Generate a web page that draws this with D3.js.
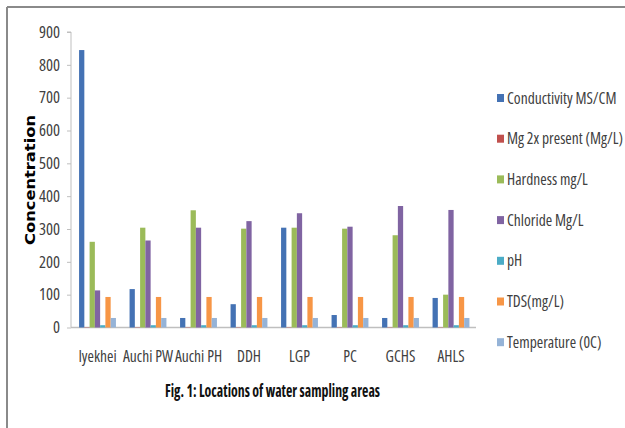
<!DOCTYPE html>
<html>
<head>
<meta charset="utf-8">
<script src="https://cdn.jsdelivr.net/npm/d3@7"></script>
<style>
  html, body { margin: 0; padding: 0; background: #fff; }
  svg { display: block; }
  .nar { font-family: 'Open Sans', sans-serif; font-stretch: condensed; }
</style>
</head>
<body>
<svg id="chart" width="625" height="428"></svg>
<script>
const categories = ["Iyekhei", "Auchi PW", "Auchi PH", "DDH", "LGP", "PC", "GCHS", "AHLS"];
const seriesNames = ["Conductivity MS/CM", "Mg 2x present (Mg/L)", "Hardness mg/L", "Chloride Mg/L", "pH", "TDS(mg/L)", "Temperature (0C)"];
const seriesColors = ["#4472B4", "#C0504D", "#9BBB59", "#8064A2", "#4BACC6", "#F79646", "#95B3D7"];
const conductivity = [845, 117, 29, 71, 304, 38, 29, 90];
const magnesium    = [1, 1, 1, 1, 1, 1, 1, 1];
const hardness     = [261, 304, 357, 301, 304, 301, 281, 100];
const chloride     = [113, 265, 304, 324, 348, 307, 370, 358];
const pH           = [7, 7, 7, 7, 7, 7, 7, 7];
const tds          = [93, 93, 93, 93, 93, 93, 93, 93];
const temperature  = [29, 29, 29, 29, 29, 29, 29, 29];
const yTicks = [0, 100, 200, 300, 400, 500, 600, 700, 800, 900];

const seriesValues = [conductivity, magnesium, hardness, chloride, pH, tds, temperature];

const svg = d3.select("#chart");

// frame
svg.append("line").attr("x1", 7).attr("y1", 7).attr("x2", 625).attr("y2", 7)
  .attr("stroke", "#8a8a8a").attr("stroke-width", 2);
svg.append("line").attr("x1", 7).attr("y1", 7).attr("x2", 7).attr("y2", 428)
  .attr("stroke", "#8a8a8a").attr("stroke-width", 2);

const x0 = d3.scaleBand().domain(categories).range([72.25, 476.25])
  .paddingInner(0.27).paddingOuter(0.135);
const x1 = d3.scaleBand().domain(seriesNames).range([0, x0.bandwidth()]);
const y = d3.scaleLinear().domain([0, 900]).range([327.5, 32]);

// y axis
const yAxis = d3.axisLeft(y).tickValues(yTicks).tickSize(4).tickPadding(7);
const gy = svg.append("g").attr("transform", "translate(71,0)").call(yAxis);
gy.attr("font-family", null);
gy.select(".domain").attr("stroke", "#bfbfbf").attr("d", `M-4,${y(900)}H0V${y(0)}`);
gy.selectAll(".tick line").attr("stroke", "#bfbfbf");
gy.selectAll(".tick text").attr("class", "nar").attr("font-size", 16.5)
  .attr("fill", "#404040");

// x axis
const xAxis = d3.axisBottom(x0).tickSize(0).tickPadding(0);
const gx = svg.append("g").attr("transform", `translate(0,${y(0)})`).call(xAxis);
gx.attr("font-family", null);
gx.select(".domain").attr("stroke", "#bfbfbf").attr("stroke-width", 1.5)
  .attr("d", `M71,0H476`);
gx.selectAll(".tick text").attr("class", "nar").attr("font-size", 15.5)
  .attr("fill", "#404040").attr("dy", 0).attr("y", 34);

// bars
const groups = svg.append("g").selectAll("g").data(categories).join("g")
  .attr("transform", d => `translate(${x0(d)},0)`);
groups.selectAll("rect")
  .data((c, ci) => seriesNames.map((s, si) => ({ s, si, v: seriesValues[si][ci] })))
  .join("rect")
  .attr("x", d => x1(d.s))
  .attr("width", x1.bandwidth())
  .attr("y", d => y(d.v))
  .attr("height", d => y(0) - y(d.v))
  .attr("fill", d => seriesColors[d.si]);

// y title
svg.append("text")
  .attr("transform", "translate(35,180) rotate(-90)")
  .attr("text-anchor", "middle")
  .attr("font-family", "'DejaVu Sans', sans-serif")
  .attr("font-weight", "bold")
  .attr("font-size", 14.5)
  .attr("textLength", 130)
  .attr("lengthAdjust", "spacingAndGlyphs")
  .attr("fill", "#000")
  .text("Concentration");

// legend
const legend = svg.append("g").selectAll("g").data(seriesNames).join("g")
  .attr("transform", (d, i) => `translate(497,${98 + i * 40.7})`);
legend.append("rect").attr("x", 0).attr("y", -4).attr("width", 7).attr("height", 8)
  .attr("fill", (d, i) => seriesColors[i]);
legend.append("text").attr("class", "nar").attr("x", 10).attr("y", 5.5)
  .attr("font-size", 15.5).attr("fill", "#404040")
  .text(d => d);

// caption
svg.append("text").attr("class", "nar")
  .attr("x", 272.5).attr("y", 397)
  .attr("text-anchor", "middle")
  .attr("font-weight", "bold")
  .attr("font-size", 17)
  .attr("textLength", 215)
  .attr("lengthAdjust", "spacingAndGlyphs")
  .attr("fill", "#111")
  .text("Fig. 1: Locations of water sampling areas");
</script>
</body>
</html>
